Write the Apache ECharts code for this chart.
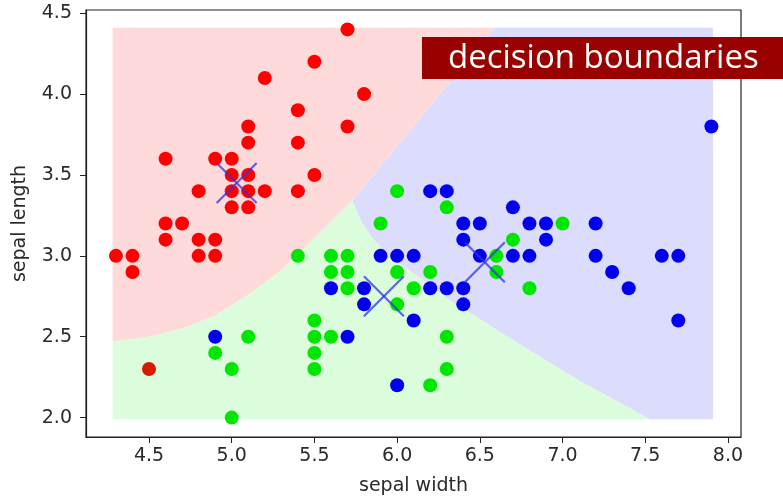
<!DOCTYPE html>
<html>
<head>
<meta charset="utf-8">
<script src="https://cdn.jsdelivr.net/npm/echarts@6/dist/echarts.min.js"></script>
<style>
  html, body { margin: 0; padding: 0; background: #fff; }
  #chart { width: 783px; height: 496px; }
</style>
</head>
<body>
<div id="chart"></div>
<script>
// tick labels
var xTicks = [4.5, 5.0, 5.5, 6.0, 6.5, 7.0, 7.5, 8.0];
var yTicks = [2.0, 2.5, 3.0, 3.5, 4.0, 4.5];

// points [x, y]
var redPts = [
  [5.7,4.4],[5.5,4.2],[5.2,4.1],[5.8,4.0],[5.4,3.9],[5.1,3.8],[5.7,3.8],[5.1,3.7],
  [5.4,3.7],[4.6,3.6],[4.9,3.6],[5.0,3.6],[5.0,3.5],[5.1,3.5],[5.5,3.5],[4.8,3.4],
  [5.0,3.4],[5.1,3.4],[5.2,3.4],[5.4,3.4],[5.0,3.3],[5.1,3.3],[4.6,3.2],[4.7,3.2],
  [4.6,3.1],[4.8,3.1],[4.9,3.1],[4.3,3.0],[4.4,3.0],[4.8,3.0],[4.9,3.0],[4.4,2.9]
];
var darkRedPts = [[4.5,2.3]];
var greenPts = [
  [6.0,3.4],[6.3,3.3],[5.9,3.2],[7.0,3.2],[6.7,3.1],[5.4,3.0],[5.6,3.0],[5.7,3.0],
  [6.6,3.0],[5.6,2.9],[5.7,2.9],[6.0,2.9],[6.2,2.9],[6.6,2.9],[5.7,2.8],[6.1,2.8],
  [6.8,2.8],[6.0,2.7],[5.5,2.6],[5.1,2.5],[5.5,2.5],[5.6,2.5],[6.3,2.5],[4.9,2.4],
  [5.5,2.4],[5.0,2.3],[5.5,2.3],[6.3,2.3],[6.2,2.2],[5.0,2.0]
];
var bluePts = [
  [7.9,3.8],[6.2,3.4],[6.3,3.4],[6.7,3.3],[6.4,3.2],[6.5,3.2],[6.8,3.2],[6.9,3.2],
  [7.2,3.2],[6.4,3.1],[6.9,3.1],[5.9,3.0],[6.0,3.0],[6.1,3.0],[6.5,3.0],[6.7,3.0],
  [6.8,3.0],[7.2,3.0],[7.6,3.0],[7.7,3.0],[7.3,2.9],[5.6,2.8],[5.8,2.8],[6.2,2.8],
  [6.3,2.8],[6.4,2.8],[7.4,2.8],[5.8,2.7],[6.4,2.7],[6.1,2.6],[7.7,2.6],[4.9,2.5],
  [5.7,2.5],[6.0,2.2]
];

// cluster centres (X marks)
var centers = [[5.03,3.45],[5.92,2.75],[6.53,2.96]];

// decision boundary edges
var redGreenEdge = [[4.28,2.47],[4.5,2.50],[4.7,2.55],[4.9,2.63],[5.1,2.76],[5.3,2.91],[5.5,3.11],[5.73,3.34]];
var blueGreenEdge = [[5.73,3.34],[5.78,3.22],[5.85,3.11],[5.93,3.02],[6.02,2.95],[6.12,2.88],[6.3,2.74],[6.7,2.48],[7.1,2.23],[7.53,1.99]];
var meshX = [4.28, 7.91];
var meshY = [1.99, 4.41];
var redBlueTop = [6.59, 4.41];

var regions = [
  [[meshX[0],meshY[1]], redBlueTop].concat(redGreenEdge.slice().reverse()),
  redGreenEdge.concat(blueGreenEdge.slice(1)).concat([[meshX[0],meshY[0]]]),
  [redBlueTop, [meshX[1],meshY[1]], [meshX[1],meshY[0]]].concat(blueGreenEdge.slice().reverse())
];
var regionColors = ['#ffdada', '#dcfddc', '#dcdcfd'];

var chart = echarts.init(document.getElementById('chart'));

var tickFont = { fontFamily: 'DejaVu Sans', fontSize: 19, color: '#2a2a2a' };

var option = {
  animation: false,
  grid: { left: 86, right: 42, top: 10, bottom: 59, outerBoundsMode: 'none', containLabel: false,
    show: true, borderColor: '#222', borderWidth: 1.2, backgroundColor: 'transparent' },
  xAxis: {
    type: 'value', min: 4.119, max: 8.079,
    name: 'sepal width', nameLocation: 'middle', nameGap: 40,
    nameTextStyle: tickFont,
    axisLine: { show: true, onZero: false, lineStyle: { color: '#222', width: 1.2 } },
    axisTick: { show: true, customValues: xTicks, length: 6, lineStyle: { color: '#222' } },
    axisLabel: { customValues: xTicks, margin: 10, formatter: function (v) { return v.toFixed(1); },
      fontFamily: tickFont.fontFamily, fontSize: tickFont.fontSize, color: tickFont.color },
    splitLine: { show: false }
  },
  yAxis: {
    type: 'value', min: 1.88, max: 4.52,
    name: 'sepal length', nameLocation: 'middle', nameGap: 56,
    nameTextStyle: tickFont,
    axisLine: { show: true, onZero: false, lineStyle: { color: '#222', width: 1.2 } },
    axisTick: { show: true, customValues: yTicks, length: 6, lineStyle: { color: '#222' } },
    axisLabel: { customValues: yTicks, margin: 14, formatter: function (v) { return v.toFixed(1); },
      fontFamily: tickFont.fontFamily, fontSize: tickFont.fontSize, color: tickFont.color },
    splitLine: { show: false }
  },
  graphic: [
    { type: 'rect', z: 100, shape: { x: 422, y: 37, width: 361, height: 42 }, style: { fill: '#990000' } },
    { type: 'text', z: 101, x: 448, y: 59, style: { text: 'decision boundaries', fill: '#fff', font: '33px "Open Sans"', textVerticalAlign: 'middle', verticalAlign: 'middle' } }
  ],
  series: [
    {
      type: 'custom',
      silent: true,
      z: 1,
      data: regions.map(function (r, i) { return [r[0][0], r[0][1], i]; }),
      renderItem: function (params, api) {
        var idx = api.value(2);
        var pts = regions[idx].map(function (p) { return api.coord(p); });
        return { type: 'polygon', shape: { points: pts }, style: { fill: regionColors[idx] } };
      }
    },
    { type: 'scatter', z: 2, symbolSize: 14, data: redPts, itemStyle: { color: '#ff0000', opacity: 1 } },
    { type: 'scatter', z: 2, symbolSize: 14, data: darkRedPts, itemStyle: { color: '#d81a00', opacity: 1 } },
    { type: 'scatter', z: 2, symbolSize: 14, data: greenPts, itemStyle: { color: '#00e600', opacity: 1 } },
    { type: 'scatter', z: 2, symbolSize: 14, data: bluePts, itemStyle: { color: '#0000ee', opacity: 1 } },
    {
      type: 'custom',
      z: 3,
      data: centers,
      renderItem: function (params, api) {
        var c = api.coord([api.value(0), api.value(1)]);
        var d = 20;
        var st = { stroke: 'rgba(50,50,230,0.75)', lineWidth: 2.2 };
        return {
          type: 'group',
          children: [
            { type: 'line', shape: { x1: c[0]-d, y1: c[1]-d, x2: c[0]+d, y2: c[1]+d }, style: st },
            { type: 'line', shape: { x1: c[0]-d, y1: c[1]+d, x2: c[0]+d, y2: c[1]-d }, style: st }
          ]
        };
      }
    }
  ]
};

chart.setOption(option);
</script>
</body>
</html>
